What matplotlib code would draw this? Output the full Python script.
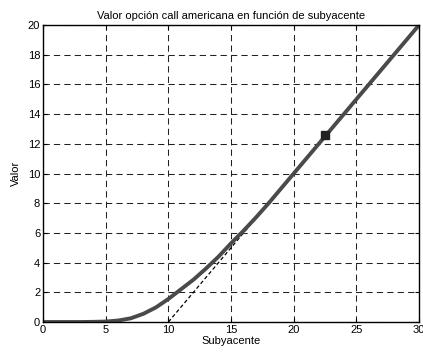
import numpy as np
import matplotlib
matplotlib.use('Agg')
import matplotlib.pyplot as plt

plt.rcParams['font.family'] = ['Liberation Sans', 'DejaVu Sans']

# valores
subyacente = [0, 1, 2, 3, 4, 5, 6, 7, 8, 9, 10, 11, 12, 13, 14, 15,
              16, 17, 18, 19, 20, 21, 22, 23, 24, 25, 26, 27, 28, 29, 30]
valor = [0, 0, 0, 0, 0.01, 0.03, 0.1, 0.25, 0.55, 0.98, 1.55, 2.2, 2.85, 3.6, 4.4, 5.3,
         6.15, 7.05, 8.0, 9.0, 10.0, 11.0, 12.0, 13.0, 14.0, 15.0, 16.0, 17.0, 18.0, 19.0, 20.0]
strike = 10
payoff_x = [10, 30]
payoff_y = [0, 20]
punto_x = [22.5]
punto_y = [12.6]

fig = plt.figure(figsize=(4.23, 3.52), dpi=100)
ax = fig.add_axes([0.1017, 0.0852, 0.889, 0.8438])

ax.plot(payoff_x, payoff_y, color='black', lw=0.9, ls=(0, (3, 2)))
ax.plot(subyacente, valor, color='#4a4a4a', lw=2.8, solid_capstyle='butt')
ax.plot(punto_x, punto_y, 's', color='#222222', ms=6)

ax.set_xlim(0, 30)
ax.set_ylim(0, 20)
ax.set_xticks(range(0, 31, 5))
ax.set_yticks(range(0, 21, 2))
ax.grid(True, color='#222222', ls=(0, (6, 4)), lw=0.75)
ax.tick_params(direction='in', top=True, right=True, labelsize=8, length=3, pad=2)
for s in ax.spines.values():
    s.set_linewidth(1.0)

ax.set_title('Valor opción call americana en función de subyacente', fontsize=8, pad=4)
ax.set_xlabel('Subyacente', fontsize=8, labelpad=1)
ax.set_ylabel('Valor', fontsize=8, labelpad=5)

fig.savefig('out.png', dpi=100)
